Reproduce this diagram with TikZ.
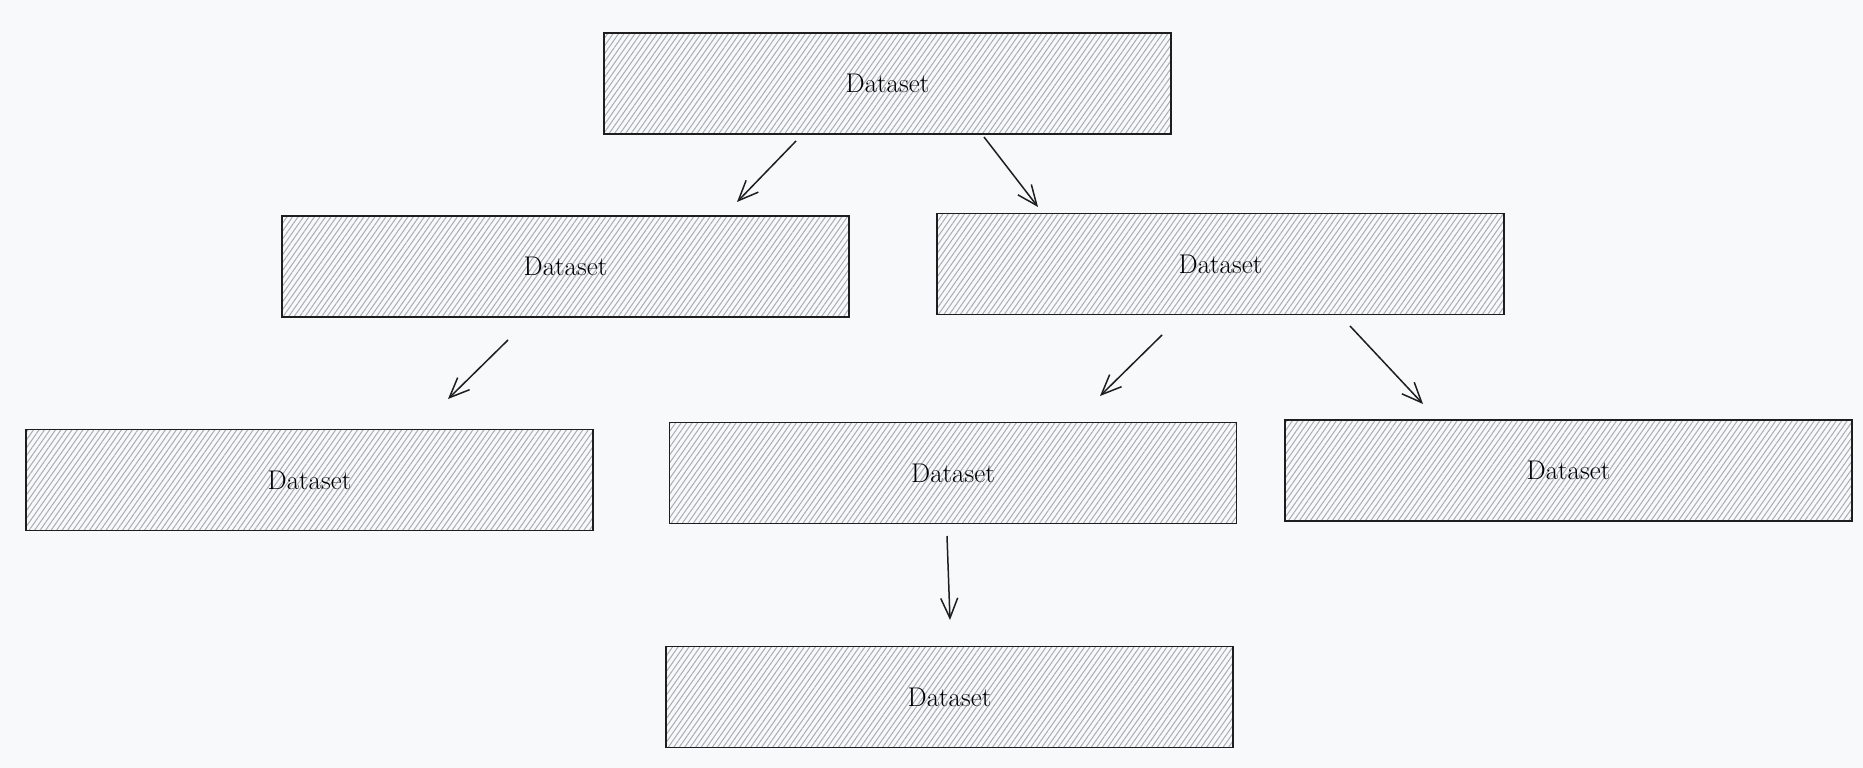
\documentclass[tikz,border=0pt]{standalone}
\usepackage{xcolor}
\usepackage{tikz}
\usetikzlibrary{arrows.meta, positioning, patterns.meta}

\definecolor{paper}{HTML}{F8F9FA}
\definecolor{hatch}{HTML}{A7ADB2}
\definecolor{ink}{HTML}{1E1E1E}

\begin{document}
\begin{tikzpicture}[x=1pt, y=-1pt, >={Straight Barb[length=20pt, width=17pt]}, font=\fontsize{27}{31}\selectfont]
\tikzstyle{hatched} = [draw=ink, line width=1.2pt, minimum width=567pt, minimum height=101pt, inner sep=0pt, pattern={Lines[angle=55, distance=4.5pt, line width=1pt]}, pattern color=hatch]
\tikzstyle{link} = [ink, line width=1.5pt]

\fill[paper] (0, 0) rectangle (1863, 768);
\useasboundingbox (0, 0) rectangle (1863, 768);

\node[hatched]			at (887.5, 83.5)	(q0)	{Dataset};
\node[hatched]			at (565.5, 266.5)	(q1)	{Dataset};
\node[hatched]			at (1220.5, 264)	(q2)	{Dataset};
\node[hatched]			at (309.5, 480)		(q3)	{Dataset};
\node[hatched]			at (953, 473)		(q4)	{Dataset};
\node[hatched]			at (1568.5, 470.5)	(q5)	{Dataset};
\node[hatched]			at (949.5, 697)		(q6)	{Dataset};

% arrow ends, kept clear of the boxes
\coordinate (a1) at (796, 141);		\coordinate (b1) at (737, 202);
\coordinate (a2) at (984, 137);		\coordinate (b2) at (1038, 207);
\coordinate (a3) at (508, 340);		\coordinate (b3) at (448, 399);
\coordinate (a4) at (1162, 335);	\coordinate (b4) at (1100, 396);
\coordinate (a5) at (1350, 326);	\coordinate (b5) at (1423, 404);
\coordinate (a6) at (947, 536);		\coordinate (b6) at (950, 620);

\path[->, link]
(a1)	edge	(b1)
(a2)	edge	(b2)
(a3)	edge	(b3)
(a4)	edge	(b4)
(a5)	edge	(b5)
(a6)	edge	(b6);
\end{tikzpicture}
\end{document}
